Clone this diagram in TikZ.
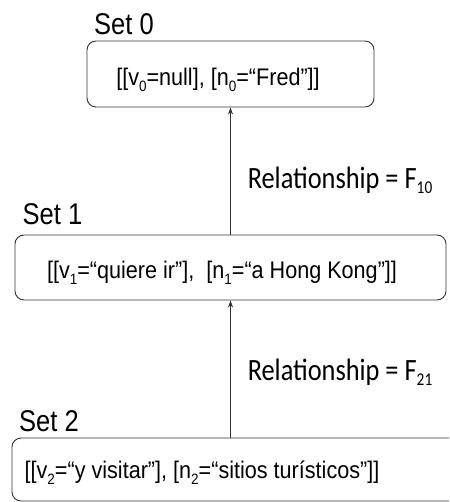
\documentclass[tikz,border=0pt]{standalone}
\usepackage{fontspec}
\newfontfamily\setfont[FakeStretch=0.85]{Liberation Sans}
\newfontfamily\itemfont[FakeStretch=0.9]{Liberation Sans}
\newfontfamily\relfont[FakeStretch=0.85]{Carlito}
\usetikzlibrary{arrows.meta}
% lowered, smaller index in the current font
\newcommand\lowidx[2]{\raisebox{-#1}{\fontsize{15}{15}\selectfont #2}}
\begin{document}
\begin{tikzpicture}[x=1pt,y=-1pt,
  setbox/.style={draw=black!80, line width=0.9pt, rounded corners=9pt, inner sep=0pt},
  boxtext/.style={inner sep=0pt, font=\itemfont\fontsize{24}{28}\selectfont},
  setlabel/.style={inner sep=0pt, font=\setfont\fontsize{30}{34}\selectfont},
  rellabel/.style={inner sep=0pt, font=\relfont\fontsize{31}{34}\selectfont},
  link/.style={draw=black!80, line width=0.9pt, -{Stealth[length=7pt,width=5pt]}}]
\useasboundingbox (0,0) rectangle (449,502);
\clip (0,0) rectangle (449,502);
% the three sets
\node[setbox, minimum width=287pt, minimum height=66pt] (b0) at (230.5,74) {};
\node[setbox, minimum width=431pt, minimum height=65pt] (b1) at (230.5,267.5) {};
\node[setbox, minimum width=470pt, minimum height=63pt] (b2) at (247,469.5) {};
% set titles
\node[setlabel] (s0) at (124,24) {Set 0};
\node[setlabel] (s1) at (52.5,214) {Set 1};
\node[setlabel] (s2) at (49,421) {Set 2};
% contents
\node[boxtext] (t0) at (218,80) {[[v\lowidx{6pt}{0}=null], [n\lowidx{6pt}{0}=“Fred”]]};
\node[boxtext] (t1) at (222,273) {[[v\lowidx{6pt}{1}=“quiere ir”],\ \ [n\lowidx{6pt}{1}=“a Hong Kong”]]};
\node[boxtext] (t2) at (202,472.5) {[[v\lowidx{6pt}{2}=“y visitar”], [n\lowidx{6pt}{2}=“sitios turísticos”]]};
% relationships
\draw[link] (b1.north) -- (b0.south);
\draw[link] (b2.north -| b1.south) -- (b1.south);
\node[rellabel] (r10) at (340,180) {Relationship = F\lowidx{5pt}{\fontsize{18}{18}\selectfont 10}};
\node[rellabel] (r21) at (340,372) {Relationship = F\lowidx{5pt}{\fontsize{18}{18}\selectfont 21}};
\end{tikzpicture}
\end{document}
